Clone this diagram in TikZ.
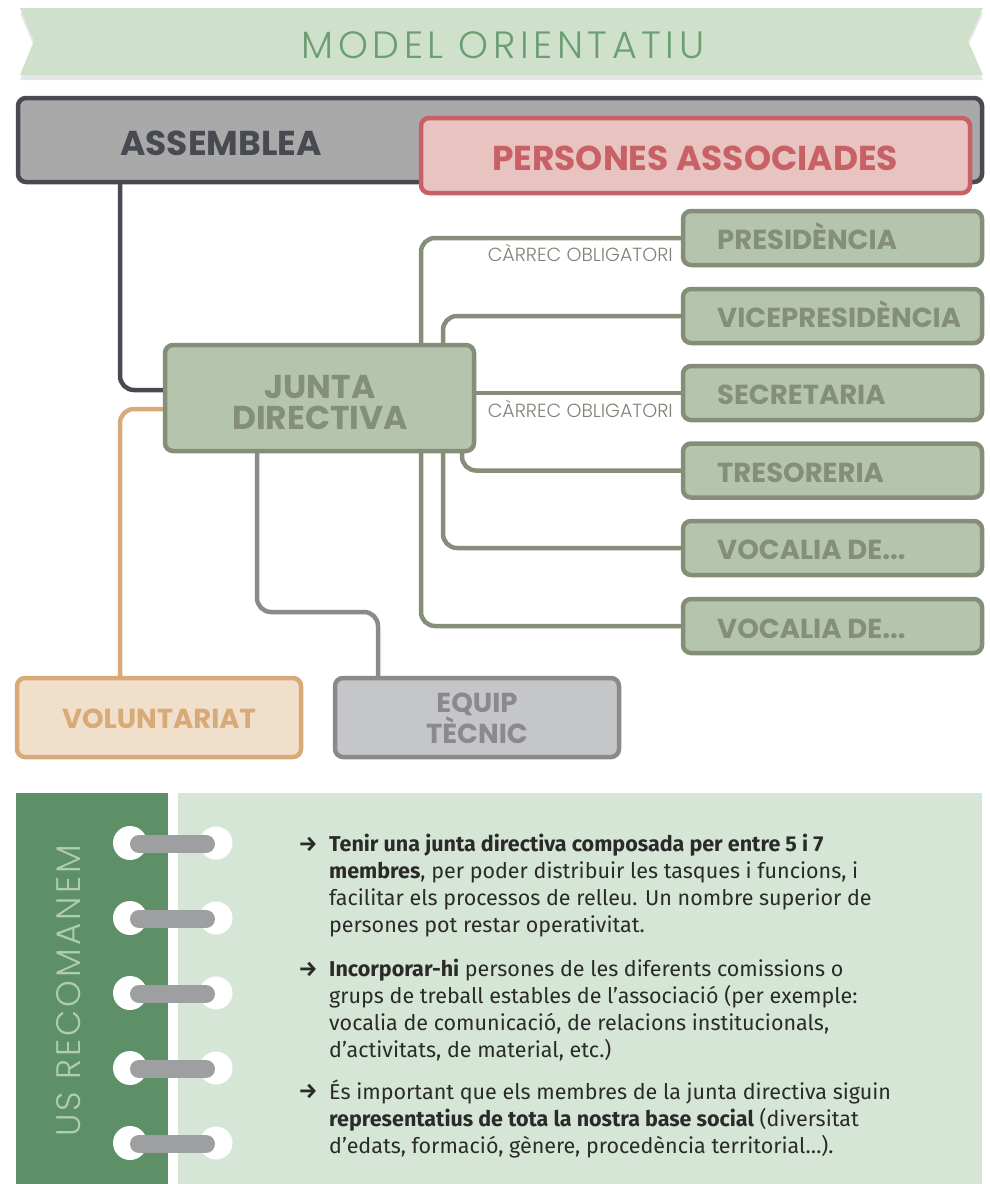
\documentclass[tikz,border=0pt]{standalone}
\usepackage{fontspec}
\setmainfont{Poppins}
\newfontfamily\thin{Poppins Light}
\newfontfamily\thinsp[LetterSpace=12]{Poppins Light}
\newfontfamily\thinvert[LetterSpace=9]{Poppins Light}
\newfontfamily\body{Fira Sans}
\definecolor{banner}{HTML}{CFE0CB}
\definecolor{bannershadow}{HTML}{E6E6E6}
\definecolor{titlegreen}{HTML}{6B9E72}
\definecolor{asmline}{HTML}{474A50}
\definecolor{asmfill}{HTML}{AAA9AA}
\definecolor{redline}{HTML}{C86165}
\definecolor{redfill}{HTML}{E8C3BF}
\definecolor{grline}{HTML}{858E79}
\definecolor{grfill}{HTML}{B5C5AD}
\definecolor{orline}{HTML}{D8AA78}
\definecolor{orfill}{HTML}{F0DFCB}
\definecolor{gyline}{HTML}{8A8A8C}
\definecolor{gyfill}{HTML}{C5C6C8}
\definecolor{darkpanel}{HTML}{5E9068}
\definecolor{lightpanel}{HTML}{D6E6D6}
\definecolor{vtext}{HTML}{B0CDAE}
\definecolor{ringbar}{HTML}{9E9FA1}
\definecolor{bodytext}{HTML}{2A2A2A}
\definecolor{labelgrey}{HTML}{7E8378}
\tikzset{
  box/.style={rectangle, rounded corners=8pt, line width=4.5pt, inner sep=0pt},
  conn/.style={line width=4.5pt, rounded corners=14pt},
  boxlabel/.style={inner sep=0pt, anchor=base west, font=\bfseries\fontsize{27.5}{30}\selectfont, text=grline},
  bullet/.style={inner sep=0pt, anchor=north west, align=left, text=bodytext, font=\body\fontsize{21.5}{27}\selectfont},
  arrowmark/.style={inner sep=0pt, anchor=base, text=bodytext, font=\body\bfseries\fontsize{21.5}{27}\selectfont},
  cargo/.style={inner sep=0pt, anchor=base east, text=labelgrey, font=\thin\fontsize{19}{19}\selectfont}
}
\begin{document}
\begin{tikzpicture}[x=1pt,y=-1pt]
\useasboundingbox (0,0) rectangle (989,1184);
% banner
\fill[bannershadow] (20,13) -- (983,13) -- (968,46) -- (983,80) -- (20,80) -- (34,46) -- cycle;
\fill[banner] (20,8) -- (983,8) -- (968,41) -- (983,75) -- (20,75) -- (34,41) -- cycle;
\node[inner sep=0pt, anchor=base, text=titlegreen, font=\thinsp\fontsize{38}{38}\selectfont] (title) at (503,58) {MODEL ORIENTATIU};

% coordinates for connectors
\coordinate (ka) at (120,390);
\coordinate (kv) at (120,409);
\coordinate (ke1) at (257,612);
\coordinate (ke2) at (378,612);
\coordinate (xa) at (421,0);
\coordinate (xb) at (443,0);
\coordinate (xc) at (462,0);

% boxes (positions)
\path (500,140) node[box, minimum width=959.5pt, minimum height=79.5pt] (asm) {};
\path (695.5,155.5) node[box, minimum width=544.5pt, minimum height=70.5pt] (pers) {};
\path (319.5,398) node[box, minimum width=304.5pt, minimum height=101.5pt] (junta) {};
\foreach \n/\y in {pres/238, vice/316, secr/393, tres/470.5, voc1/548, voc2/626}{
  \path (832.5,\y) node[box, minimum width=294.5pt, minimum height=49.5pt] (\n) {};
}
\path (159,717.5) node[box, minimum width=279.5pt, minimum height=74.5pt] (vol) {};
\path (477,717.5) node[box, minimum width=279.5pt, minimum height=74.5pt] (equip) {};

% connectors
\draw[conn, asmline] (ka |- asm.south) -- (ka) -- (ka -| junta.west);
\draw[conn, orline] (kv -| junta.west) -- (kv) -- (kv |- vol.north);
\draw[conn, gyline] (ke1 |- junta.south) -- (ke1) -- (ke2) -- (ke2 |- equip.north);
\draw[conn, grline] (xa |- junta.north) -- (xa |- pres.west) -- (pres.west);
\draw[conn, grline] (xb |- junta.north) -- (xb |- vice.west) -- (vice.west);
\draw[conn, grline] (junta.east |- secr.west) -- (secr.west);
\draw[conn, grline] (xc |- junta.south) -- (xc |- tres.west) -- (tres.west);
\draw[conn, grline] (xb |- junta.south) -- (xb |- voc1.west) -- (voc1.west);
\draw[conn, grline] (xa |- junta.south) -- (xa |- voc2.west) -- (voc2.west);

% draw boxes on top
\draw[box, asmline, fill=asmfill] (asm.north west) rectangle (asm.south east);
\draw[box, redline, fill=redfill] (pers.north west) rectangle (pers.south east);
\node[inner sep=0pt, anchor=base, text=asmline, font=\bfseries\fontsize{34.5}{34.5}\selectfont] (asmtext) at (221,155) {ASSEMBLEA};
\node[inner sep=0pt, anchor=base, text=redline, font=\bfseries\fontsize{34.5}{34.5}\selectfont] (pertext) at (695,170) {PERSONES ASSOCIADES};
\draw[box, grline, fill=grfill] (junta.north west) rectangle (junta.south east);
\node[inner sep=0pt, align=center, text=grline, font=\bfseries\fontsize{33}{31}\selectfont] (juntatext) at (320,402) {JUNTA\\DIRECTIVA};
\foreach \n in {pres, vice, secr, tres, voc1, voc2}{
  \draw[box, grline, fill=grfill] (\n.north west) rectangle (\n.south east);
}
\node[boxlabel] (prest) at (717,249) {PRESIDÈNCIA};
\node[boxlabel] (vicet) at (717,327) {VICEPRESIDÈNCIA};
\node[boxlabel] (secrt) at (717,404) {SECRETARIA};
\node[boxlabel] (trest) at (717,482) {TRESORERIA};
\node[boxlabel] (voc1t) at (717,559) {VOCALIA DE...};
\node[boxlabel] (voc2t) at (717,638) {VOCALIA DE...};
\node[cargo] (carg1) at (673,261.5) {CÀRREC OBLIGATORI};
\node[cargo] (carg2) at (673,417.5) {CÀRREC OBLIGATORI};
\draw[box, orline, fill=orfill] (vol.north west) rectangle (vol.south east);
\draw[box, gyline, fill=gyfill] (equip.north west) rectangle (equip.south east);
\node[inner sep=0pt, anchor=base, text=orline, font=\bfseries\fontsize{27.5}{27.5}\selectfont] (volt) at (159,728) {VOLUNTARIAT};
\node[inner sep=0pt, align=center, text=gyline, font=\bfseries\fontsize{27.5}{27}\selectfont] (equipt) at (477,718) {EQUIP\\TÈCNIC};

% bottom panel
\fill[darkpanel] (16,793) rectangle (168,1184);
\fill[lightpanel] (178,793) rectangle (982,1184);
\node[rotate=90, anchor=base, inner sep=0pt, text=vtext, font=\thinvert\fontsize{34}{34}\selectfont] (rec) at (80,991) {US RECOMANEM};
\foreach \y [count=\i] in {843, 918, 993, 1068, 1143}{
  \fill[white] (130,\y) circle (17);
  \fill[white] (216,\y) circle (16.5);
  \draw[ringbar, line width=18pt, line cap=round] (139,\y+1) -- (206,\y+1);
}
\node[arrowmark] (a1) at (308,851) {→};
\node[arrowmark] (a2) at (308,976) {→};
\node[arrowmark] (a3) at (308,1098) {→};
\node[bullet] (b1) at (329,834) {\textbf{Tenir una junta directiva composada per entre 5 i 7}\\
\textbf{membres}, per poder distribuir les tasques i funcions, i\\
facilitar els processos de relleu. Un nombre superior de\\
persones pot restar operativitat.};
\node[bullet] (b2) at (329,959) {\textbf{Incorporar-hi} persones de les diferents comissions o\\
grups de treball estables de l’associació (per exemple:\\
vocalia de comunicació, de relacions institucionals,\\
d’activitats, de material, etc.)};
\node[bullet] (b3) at (329,1080) {És important que els membres de la junta directiva siguin\\
\textbf{representatius de tota la nostra base social} (diversitat\\
d’edats, formació, gènere, procedència territorial…).};
\end{tikzpicture}
\end{document}
